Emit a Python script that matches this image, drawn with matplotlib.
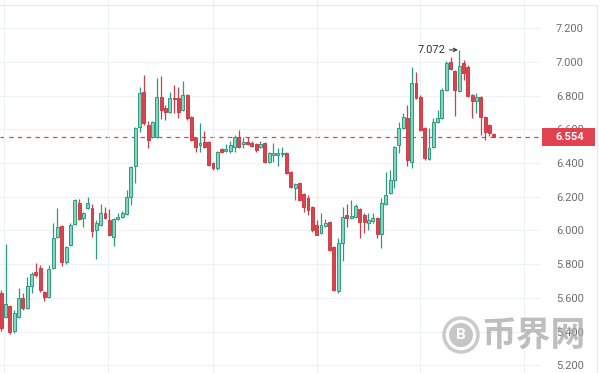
import matplotlib
matplotlib.use("Agg")
import matplotlib.pyplot as plt
import matplotlib.transforms as mtransforms
from matplotlib.patches import Rectangle, Ellipse
from matplotlib.lines import Line2D
import numpy as np

# OHLC, one entry per candle, left to right
opens = [5.629, 5.486, 5.552, 5.404, 5.486, 5.599, 5.540, 5.671, 5.754, 5.777,
         5.635, 5.605, 5.777, 5.961, 6.027, 5.813, 5.914, 6.039, 6.163, 6.074,
         6.134, 6.134, 6.003, 6.033, 6.104, 6.062, 5.961, 6.068, 6.080, 6.098,
         6.199, 6.383, 6.614, 6.822, 6.626, 6.555, 6.555, 6.792, 6.727, 6.703,
         6.786, 6.786, 6.715, 6.804, 6.674, 6.549, 6.507, 6.525, 6.525, 6.401,
         6.371, 6.484, 6.472, 6.472, 6.496, 6.555, 6.513, 6.525, 6.519, 6.513,
         6.496, 6.519, 6.407, 6.448, 6.448, 6.454, 6.460, 6.347, 6.252, 6.282,
         6.217, 6.193, 6.139, 6.033, 5.985, 6.027, 6.050, 5.902, 5.641, 5.926,
         6.092, 6.074, 6.080, 6.128, 6.092, 6.044, 6.056, 6.074, 5.979, 6.157,
         6.223, 6.300, 6.507, 6.608, 6.668, 6.407, 6.875, 6.792, 6.608, 6.424,
         6.496, 6.644, 6.668, 6.834, 7.000, 6.947, 6.828, 6.994, 6.970, 6.804,
         6.769, 6.792, 6.674, 6.626, 6.573]
highs = [5.647, 5.920, 5.558, 5.528, 5.659, 5.629, 5.724, 5.754, 5.807, 5.795,
         5.641, 5.795, 6.044, 6.134, 6.033, 5.908, 6.044, 6.187, 6.187, 6.110,
         6.199, 6.157, 6.062, 6.157, 6.139, 6.128, 6.074, 6.104, 6.116, 6.240,
         6.383, 6.614, 6.852, 6.923, 6.650, 6.650, 6.905, 6.917, 6.745, 6.822,
         6.864, 6.852, 6.887, 6.810, 6.680, 6.555, 6.638, 6.591, 6.531, 6.407,
         6.472, 6.490, 6.513, 6.531, 6.567, 6.596, 6.555, 6.555, 6.531, 6.519,
         6.531, 6.525, 6.466, 6.519, 6.490, 6.496, 6.466, 6.353, 6.282, 6.288,
         6.223, 6.211, 6.145, 6.062, 6.104, 6.068, 6.056, 5.908, 5.955, 6.139,
         6.157, 6.181, 6.157, 6.134, 6.104, 6.104, 6.104, 6.080, 6.193, 6.347,
         6.359, 6.501, 6.644, 6.697, 6.745, 6.970, 6.941, 6.804, 6.614, 6.608,
         6.668, 6.715, 6.846, 7.006, 7.030, 6.952, 7.072, 7.012, 6.982, 6.810,
         6.816, 6.798, 6.680, 6.632, 6.579]
lows = [5.404, 5.481, 5.386, 5.392, 5.481, 5.528, 5.534, 5.629, 5.724, 5.635,
        5.582, 5.599, 5.771, 5.955, 5.789, 5.801, 5.908, 6.033, 6.062, 6.021,
        6.128, 5.961, 5.831, 6.027, 6.068, 5.967, 5.908, 6.062, 6.074, 6.092,
        6.151, 6.282, 6.585, 6.626, 6.490, 6.549, 6.549, 6.662, 6.656, 6.697,
        6.697, 6.668, 6.709, 6.656, 6.531, 6.466, 6.466, 6.490, 6.383, 6.359,
        6.359, 6.460, 6.466, 6.460, 6.466, 6.490, 6.490, 6.507, 6.496, 6.466,
        6.490, 6.401, 6.401, 6.407, 6.383, 6.436, 6.335, 6.252, 6.181, 6.175,
        6.110, 6.092, 5.991, 5.973, 5.979, 6.021, 5.878, 5.641, 5.629, 5.819,
        6.021, 6.068, 6.074, 5.955, 5.985, 6.003, 6.044, 5.955, 5.896, 6.151,
        6.217, 6.252, 6.460, 6.602, 6.383, 6.371, 6.780, 6.591, 6.418, 6.418,
        6.490, 6.638, 6.662, 6.828, 6.952, 6.680, 6.822, 6.893, 6.792, 6.668,
        6.697, 6.567, 6.537, 6.561, 6.554]
closes = [5.421, 5.564, 5.398, 5.510, 5.599, 5.540, 5.671, 5.742, 5.736, 5.647,
          5.605, 5.771, 5.955, 6.021, 5.813, 5.902, 6.033, 6.181, 6.068, 6.104,
          6.163, 5.997, 6.044, 6.104, 6.074, 5.973, 6.068, 6.080, 6.104, 6.199,
          6.377, 6.608, 6.816, 6.638, 6.537, 6.644, 6.792, 6.715, 6.703, 6.786,
          6.780, 6.703, 6.804, 6.668, 6.537, 6.496, 6.519, 6.496, 6.389, 6.371,
          6.466, 6.466, 6.484, 6.507, 6.555, 6.496, 6.525, 6.513, 6.501, 6.478,
          6.513, 6.407, 6.460, 6.460, 6.460, 6.460, 6.341, 6.258, 6.276, 6.181,
          6.139, 6.122, 6.003, 5.973, 6.033, 6.044, 5.884, 5.647, 5.926, 6.080,
          6.074, 6.086, 6.145, 6.050, 6.050, 6.062, 6.074, 5.979, 6.163, 6.211,
          6.300, 6.496, 6.608, 6.674, 6.418, 6.875, 6.786, 6.596, 6.430, 6.490,
          6.644, 6.668, 6.834, 6.994, 6.958, 6.834, 6.976, 6.935, 6.798, 6.769,
          6.792, 6.674, 6.585, 6.579, 6.554]
y_ticks = [5.2, 5.4, 5.6, 5.8, 6.0, 6.2, 6.4, 6.6, 6.8, 7.0, 7.2]
time_grid = [0.7, 24.8, 49.0, 73.0, 97.0, 121.0]

UP_FILL, UP_EDGE = "#86d6bd", "#2a9d80"
DN_FILL, DN_EDGE = "#d9444f", "#cf3d48"
RED = "#e0434f"

plt.rcParams["font.family"] = ["Roboto", "DejaVu Sans"]

fig = plt.figure(figsize=(6, 3.73), dpi=100)
ax = fig.add_axes([0, 0, 0.9, 1])

o = np.array(opens)
h = np.array(highs)
l = np.array(lows)
c = np.array(closes)
x = np.arange(len(o))
up = c >= o

ax.vlines(x[up], l[up], h[up], color=UP_EDGE, lw=0.9, zorder=2)
ax.vlines(x[~up], l[~up], h[~up], color=DN_EDGE, lw=0.9, zorder=2)
body_lo = np.minimum(o, c)
body_h = np.maximum(np.abs(c - o), 0.005)
ax.bar(x[up], body_h[up], bottom=body_lo[up], width=0.68,
       color=UP_FILL, edgecolor=UP_EDGE, linewidth=0.7, zorder=3)
ax.bar(x[~up], body_h[~up], bottom=body_lo[~up], width=0.68,
       color=DN_FILL, edgecolor=DN_EDGE, linewidth=0.7, zorder=3)

ax.set_xlim(-0.3, 124.7)
ax.set_ylim(5.154, 7.368)

# grid
ax.set_xticks(time_grid)
ax.set_yticks(y_ticks)
ax.grid(True, color="#eef1f3", lw=0.8, zorder=0)
ax.tick_params(axis="x", length=0, labelbottom=False)
ax.yaxis.tick_right()
ax.tick_params(axis="y", length=0, pad=11.5, labelsize=8, labelcolor="#6e6e6e")
ax.set_yticklabels(["%.3f" % v for v in y_ticks])
for s in ax.spines.values():
    s.set_visible(False)

# last price line + label
last = closes[-1]
ax.axhline(last, color=RED, lw=0.9, ls=(0, (3.5, 3.5)), zorder=1)
trans = mtransforms.blended_transform_factory(ax.transAxes, ax.transData)
ax.add_patch(Rectangle((1.004, last - 0.053), 0.098, 0.107, transform=trans,
                       facecolor=RED, edgecolor="none", clip_on=False, zorder=6))
ax.text(1.029, last, "%.3f" % last, transform=trans, color="white", fontsize=8,
        fontweight="bold", ha="left", va="center", zorder=7, clip_on=False)

# high marker
imax = int(np.argmax(h))
ax.annotate("%.3f" % h[imax], xy=(imax - 0.3, h[imax]), xytext=(-9, 0),
            textcoords="offset points", ha="right", va="center", fontsize=8,
            color="#333333",
            arrowprops=dict(arrowstyle="->", color="#333333", lw=0.8,
                            shrinkA=1, shrinkB=0, mutation_scale=6))

# frame lines
fig.add_artist(Line2D([0, 597 / 600], [1 - 5 / 373] * 2, color="#e8e8e8", lw=0.8,
                      transform=fig.transFigure))
fig.add_artist(Line2D([597 / 600] * 2, [0, 1 - 5 / 373], color="#e8e8e8", lw=0.8,
                      transform=fig.transFigure))

# watermark
cx, cy, r = 461, 335, 17
fig.add_artist(Ellipse((cx / 600, 1 - cy / 373), 2 * r / 600, 2 * r / 373,
                       transform=fig.transFigure, facecolor="none",
                       edgecolor="#bdbdbd", lw=2.5, alpha=0.8))
fig.add_artist(Ellipse((cx / 600, 1 - cy / 373), 2 * 12 / 600, 2 * 12 / 373,
                       transform=fig.transFigure, facecolor="#b8b8b8",
                       edgecolor="none", alpha=0.8))
fig.text(cx / 600, 1 - cy / 373, "B", color="white", fontsize=11,
         fontweight="bold", ha="center", va="center")
fig.text(482 / 600, 1 - 336 / 373, "币界网", family=["Noto Sans CJK SC"],
         fontsize=25, fontweight="bold", color="#a8a8a8", alpha=0.75,
         ha="left", va="center")

fig.savefig("out.png", dpi=100)
